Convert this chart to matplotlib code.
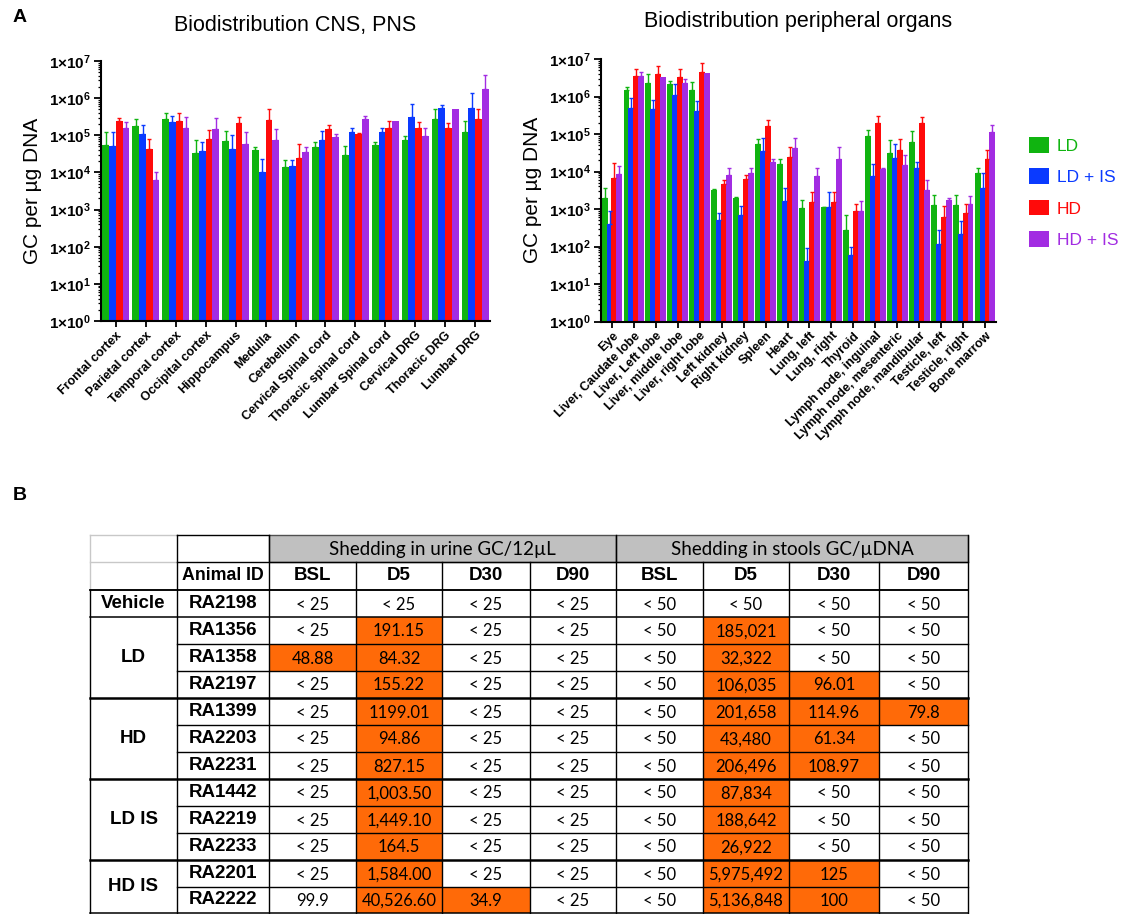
import numpy as np
import matplotlib
matplotlib.use('Agg')
import matplotlib.pyplot as plt
from matplotlib.patches import Rectangle, Patch
from matplotlib.ticker import LogLocator, FuncFormatter, NullFormatter

plt.rcParams['font.family'] = ['Liberation Sans', 'DejaVu Sans']
plt.rcParams['mathtext.fontset'] = 'custom'
plt.rcParams['mathtext.rm'] = 'Liberation Sans:bold'
plt.rcParams['mathtext.it'] = 'Liberation Sans:bold'
plt.rcParams['mathtext.bf'] = 'Liberation Sans:bold'

# ── series / colours ─────────────────────────────────────────────
series = ['LD', 'LD + IS', 'HD', 'HD + IS']
colors = ['#10B410', '#0A3AFF', '#FF0A0A', '#A22CE2']

# ── CNS, PNS (mean and top of error bar, GC per ug DNA) ──────────
cns_labels = ['Frontal cortex', 'Parietal cortex', 'Temporal cortex', 'Occipital cortex',
              'Hippocampus', 'Medulla', 'Cerebellum', 'Cervical Spinal cord',
              'Thoracic spinal cord', 'Lumbar Spinal cord', 'Cervical DRG',
              'Thoracic DRG', 'Lumbar DRG']
cns_ld     = [5.4e4, 1.8e5, 2.8e5, 3.4e4, 6.9e4, 4.0e4, 1.4e4, 4.7e4, 2.9e4, 5.4e4, 7.6e4, 2.7e5, 1.2e5]
cns_ld_err = [1.2e5, 2.8e5, 4.1e5, 7.6e4, 1.3e5, 4.8e4, 2.1e4, 6.6e4, 5.1e4, 6.6e4, 9.4e4, 5.2e5, 2.5e5]
cns_ldis     = [5.0e4, 1.06e5, 2.3e5, 3.7e4, 4.4e4, 1.03e4, 1.5e4, 7.3e4, 1.23e5, 1.23e5, 3.1e5, 5.5e5, 5.5e5]
cns_ldis_err = [1.2e5, 1.9e5, 3.3e5, 6.6e4, 1.04e5, 2.3e4, 2.2e4, 1.3e5, 1.6e5, 1.6e5, 7.1e5, 6.6e5, 1.4e6]
cns_hd     = [2.5e5, 4.4e4, 2.5e5, 8.0e4, 2.1e5, 2.6e5, 2.5e4, 1.45e5, 1.09e5, 1.6e5, 1.6e5, 1.6e5, 2.7e5]
cns_hd_err = [3.0e5, 8.1e4, 4.1e5, 1.4e5, 3.2e5, 5.0e5, 6.0e4, 1.9e5, 1.18e5, 2.4e5, 2.3e5, 2.1e5, 5.1e5]
cns_hdis     = [1.6e5, 6.1e3, 1.6e5, 1.5e5, 5.8e4, 7.3e4, 3.5e4, 9.0e4, 2.7e5, 2.5e5, 9.4e4, 5.2e5, 1.77e6]
cns_hdis_err = [2.3e5, 1.0e4, 3.1e5, 3.0e5, 1.2e5, 1.5e5, 4.8e4, 1.1e5, 3.3e5, 2.5e5, 1.6e5, 5.2e5, 4.1e6]

# ── peripheral organs ────────────────────────────────────────────
per_labels = ['Eye', 'Liver, Caudate lobe', 'Liver, Left lobe', 'Liver, middle lobe',
              'Liver, right lobe', 'Left kidney', 'Right kidney', 'Spleen', 'Heart',
              'Lung, left', 'Lung, right', 'Thyroid', 'Lymph node, inguinal',
              'Lymph node, mesenteric', 'Lymph node, mandibular', 'Testicle, left',
              'Testicle, right', 'Bone marrow']
per_ld     = [2.0e3, 1.5e6, 2.3e6, 2.2e6, 1.5e6, 3.2e3, 2.0e3, 5.5e4, 1.56e4, 1.05e3, 1.1e3, 270, 9.1e4, 3.1e4, 6.3e4, 1.3e3, 1.3e3, 8.9e3]
per_ld_err = [3.6e3, 1.8e6, 3.9e6, 2.65e6, 2.4e6, 3.4e3, 2.1e3, 7.3e4, 2.2e4, 1.7e3, 1.15e3, 690, 1.3e5, 6.9e4, 1.23e5, 2.4e3, 2.3e3, 1.26e4]
per_ldis     = [400, 4.8e5, 4.6e5, 1.1e6, 4.0e5, 510, 690, 3.6e4, 1.66e3, 40, 1.1e3, 58, 7.6e3, 2.25e4, 1.23e4, 115, 220, 3.7e3]
per_ldis_err = [910, 9.4e5, 8.1e5, 2.2e6, 7.8e5, 770, 1.2e3, 8.0e4, 3.7e3, 91, 2.8e3, 100, 1.6e4, 5.3e4, 1.8e4, 280, 480, 8.9e3]
per_hd     = [6.9e3, 3.6e6, 3.9e6, 3.4e6, 4.6e6, 4.6e3, 6.3e3, 1.66e5, 2.4e4, 1.5e3, 1.5e3, 910, 1.95e5, 3.8e4, 1.95e5, 600, 780, 2.2e4]
per_hd_err = [1.66e4, 5.3e6, 6.6e6, 5.4e6, 7.6e6, 6.0e3, 8.1e3, 2.3e5, 4.6e4, 2.8e3, 2.8e3, 1.4e3, 3.0e5, 7.4e4, 2.9e5, 1.2e3, 1.4e3, 3.8e4]
per_hdis     = [8.5e3, 3.6e6, 3.4e6, 2.3e6, 4.3e6, 8.1e3, 9.3e3, 1.8e4, 4.2e4, 7.4e3, 2.1e4, 910, 1.17e4, 1.45e4, 3.2e3, 1.7e3, 1.4e3, 1.15e5]
per_hdis_err = [1.4e4, 4.4e6, 3.4e6, 2.9e6, 4.3e6, 1.23e4, 1.23e4, 2.2e4, 7.7e4, 1.27e4, 4.6e4, 1.6e3, 1.27e4, 2.7e4, 6.0e3, 2.0e3, 2.2e3, 1.75e5]

# ── shedding table ───────────────────────────────────────────────
groups      = ['Vehicle', 'LD', 'HD', 'LD IS', 'HD IS']
group_sizes = [1, 3, 3, 3, 2]
animal_ids  = ['RA2198', 'RA1356', 'RA1358', 'RA2197', 'RA1399', 'RA2203', 'RA2231',
               'RA1442', 'RA2219', 'RA2233', 'RA2201', 'RA2222']
time_points = ['BSL', 'D5', 'D30', 'D90']
urine_bsl = ['< 25', '< 25', '48.88', '< 25', '< 25', '< 25', '< 25', '< 25', '< 25', '< 25', '< 25', '99.9']
urine_d5  = ['< 25', '191.15', '84.32', '155.22', '1199.01', '94.86', '827.15', '1,003.50',
             '1,449.10', '164.5', '1,584.00', '40,526.60']
urine_d30 = ['< 25'] * 11 + ['34.9']
urine_d90 = ['< 25'] * 12
stool_bsl = ['< 50'] * 12
stool_d5  = ['< 50', '185,021', '32,322', '106,035', '201,658', '43,480', '206,496', '87,834',
             '188,642', '26,922', '5,975,492', '5,136,848']
stool_d30 = ['< 50', '< 50', '< 50', '96.01', '114.96', '61.34', '108.97', '< 50', '< 50',
             '< 50', '125', '100']
stool_d90 = ['< 50', '< 50', '< 50', '< 50', '79.8', '< 50', '< 50', '< 50', '< 50', '< 50', '< 50', '< 50']
# cells flagged orange in the source (99.9 baseline is not flagged)
flag_urine_bsl = [0, 0, 1, 0, 0, 0, 0, 0, 0, 0, 0, 0]

ORANGE = '#FF6A08'
GREY = '#C0C0C0'

fig = plt.figure(figsize=(11.24, 9.14), dpi=100, facecolor='white')


def bar_panel(rect, labels, means, tops, width, step):
    ax = fig.add_axes(rect)
    x = np.arange(len(labels))
    n = len(means)
    for i, (m, t, c) in enumerate(zip(means, tops, colors)):
        off = (i - (n - 1) / 2) * step
        m = np.array(m, dtype=float)
        t = np.array(t, dtype=float)
        ax.bar(x + off, m, width, color=c, edgecolor='none', zorder=2)
        k = t > m * 1.02
        ax.errorbar(x[k] + off, m[k], yerr=[np.zeros(k.sum()), (t - m)[k]], fmt='none',
                    ecolor=c, elinewidth=1.0, capsize=1.6, capthick=1.0, zorder=3)
    ax.set_yscale('log')
    ax.set_ylim(1, 1e7)
    ax.set_xlim(-0.5, len(labels) - 0.5)
    ax.yaxis.set_major_locator(LogLocator(base=10, numticks=20))
    ax.yaxis.set_minor_locator(LogLocator(base=10, subs=np.arange(2, 10), numticks=20))
    ax.yaxis.set_minor_formatter(NullFormatter())
    ax.yaxis.set_major_formatter(FuncFormatter(
        lambda v, p: r'$1×10^{%d}$' % int(round(np.log10(v)))))
    ax.set_xticks(x)
    ax.set_xticklabels(labels, rotation=45, ha='right', rotation_mode='anchor',
                       fontsize=9, fontweight='bold')
    ax.tick_params(axis='y', which='major', length=5, width=1.3, labelsize=11, pad=2)
    ax.tick_params(axis='y', which='minor', length=2.5, width=0.9)
    ax.tick_params(axis='x', length=4, width=1.3, pad=2)
    for s in ['top', 'right']:
        ax.spines[s].set_visible(False)
    for s in ['left', 'bottom']:
        ax.spines[s].set_linewidth(1.5)
    ax.set_ylabel('GC per µg DNA', fontsize=15, labelpad=5)
    return ax


ax1 = bar_panel([101 / 1124, 1 - 321 / 914, 389 / 1124, 260 / 914], cns_labels,
                [cns_ld, cns_ldis, cns_hd, cns_hdis],
                [cns_ld_err, cns_ldis_err, cns_hd_err, cns_hdis_err], 0.225, 0.225)
ax2 = bar_panel([601 / 1124, 1 - 321.5 / 914, 395 / 1124, 262.5 / 914], per_labels,
                [per_ld, per_ldis, per_hd, per_hdis],
                [per_ld_err, per_ldis_err, per_hd_err, per_hdis_err], 0.27, 0.225)

fig.text(295.5 / 1124, 1 - 25 / 914, 'Biodistribution CNS, PNS', ha='center', va='center', fontsize=15.5)
fig.text(798 / 1124, 1 - 22 / 914, 'Biodistribution peripheral organs', ha='center', va='center', fontsize=15.5)
fig.text(13 / 1124, 1 - 18 / 914, 'A', fontsize=14, fontweight='bold', va='center')
fig.text(13 / 1124, 1 - 495 / 914, 'B', fontsize=14, fontweight='bold', va='center')

handles = [Patch(facecolor=c, edgecolor='none') for c in colors]
fig.legend(handles, series, loc='upper left', bbox_to_anchor=(1029 / 1124, 1 - 137 / 914),
           frameon=False, fontsize=12.5, labelcolor=colors, handlelength=1.15,
           handleheight=1.0, handletextpad=0.45, labelspacing=0.85,
           borderpad=0, borderaxespad=0)

# ── table B ──────────────────────────────────────────────────────
tax = fig.add_axes([0, 0, 1, 1])
tax.set_xlim(0, 1124)
tax.set_ylim(914, 0)
tax.axis('off')

col_edges = [90, 177, 269, 356, 442, 530, 616, 703, 789, 879, 968]
row_edges = [535, 562, 590] + [590 + 27 * i for i in range(1, 13)]
row_edges[-1] = 913

columns = [urine_bsl, urine_d5, urine_d30, urine_d90, stool_bsl, stool_d5, stool_d30, stool_d90]
flags = [flag_urine_bsl] + [[0 if v.startswith('<') else 1 for v in col] for col in columns[1:]]

value_font = dict(family=['Lato', 'DejaVu Sans'], fontsize=12)
head_font = dict(family=['Lato', 'DejaVu Sans'], fontsize=13.5)
bold_font = dict(fontsize=13.5, fontweight='bold')

# grey header bands
for j0, j1, txt in [(2, 6, 'Shedding in urine GC/12µL'), (6, 10, 'Shedding in stools GC/µDNA')]:
    tax.add_patch(Rectangle((col_edges[j0], row_edges[0]), col_edges[j1] - col_edges[j0],
                            row_edges[1] - row_edges[0], facecolor=GREY, edgecolor='#505050', lw=1))
    tax.text((col_edges[j0] + col_edges[j1]) / 2, (row_edges[0] + row_edges[1]) / 2 + 1, txt,
             ha='center', va='center', **head_font)

# orange value cells
for j, (col, fl) in enumerate(zip(columns, flags)):
    for r, (v, f) in enumerate(zip(col, fl)):
        y0, y1 = row_edges[r + 2], row_edges[r + 3]
        x0, x1 = col_edges[j + 2], col_edges[j + 3]
        if f:
            tax.add_patch(Rectangle((x0, y0), x1 - x0, y1 - y0, facecolor=ORANGE, edgecolor='none'))
        tax.text((x0 + x1) / 2, (y0 + y1) / 2 + 1, v, ha='center', va='center', **value_font)

# column headers
tax.text((col_edges[1] + col_edges[2]) / 2, (row_edges[1] + row_edges[2]) / 2, 'Animal ID',
         ha='center', va='center', fontsize=12.8, fontweight='bold')
for j, tp in enumerate(time_points * 2):
    tax.text((col_edges[j + 2] + col_edges[j + 3]) / 2, (row_edges[1] + row_edges[2]) / 2, tp,
             ha='center', va='center', **bold_font)

# animal ids
for r, aid in enumerate(animal_ids):
    tax.text((col_edges[1] + col_edges[2]) / 2, (row_edges[r + 2] + row_edges[r + 3]) / 2, aid,
             ha='center', va='center', **bold_font)

# grid lines
lc = 'black'
light = '#C8C8C8'
x_all = (col_edges[0], col_edges[-1])
# top-left light block
tax.plot([col_edges[0], col_edges[1]], [row_edges[0]] * 2, color=light, lw=1)
tax.plot([col_edges[0], col_edges[1]], [row_edges[1]] * 2, color=light, lw=1)
tax.plot([col_edges[0]] * 2, [row_edges[0], row_edges[2]], color=light, lw=1)
tax.plot([col_edges[1], col_edges[2]], [row_edges[0]] * 2, color=lc, lw=1)
tax.plot([col_edges[1], col_edges[-1]], [row_edges[1]] * 2, color=lc, lw=1)
for xe in col_edges[1:]:
    tax.plot([xe, xe], [row_edges[0] if xe <= col_edges[2] or xe in (col_edges[6], col_edges[10]) else row_edges[1],
                        row_edges[-1]], color=lc, lw=1)
tax.plot([col_edges[0]] * 2, [row_edges[2], row_edges[-1]], color=lc, lw=1)

# group labels and row lines
start = 0
bounds = []
for g, n in zip(groups, group_sizes):
    y0, y1 = row_edges[start + 2], row_edges[start + 2 + n]
    tax.text((col_edges[0] + col_edges[1]) / 2, (y0 + y1) / 2, g, ha='center', va='center', **bold_font)
    bounds.append(start)
    start += n
for r in range(len(animal_ids) + 1):
    y = row_edges[r + 2]
    if r in bounds or r == len(animal_ids):
        lw = 1.8 if r not in (0, 1, len(animal_ids)) else 1.1
        tax.plot(x_all, [y, y], color=lc, lw=lw)
    else:
        tax.plot([col_edges[1], col_edges[-1]], [y, y], color=lc, lw=1)
tax.plot(x_all, [row_edges[2]] * 2, color=lc, lw=1.1)

fig.savefig('out.png', dpi=100, facecolor='white')
